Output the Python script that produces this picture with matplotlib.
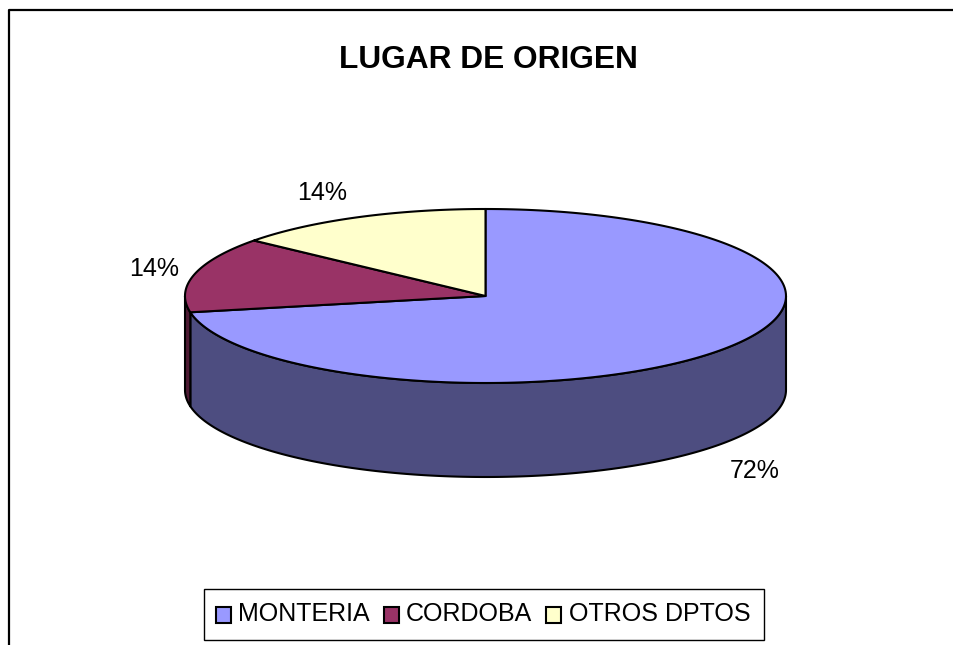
"""Lugar de origen: 3D-look pie chart drawn in pixel coordinates."""

import numpy as np
import matplotlib
matplotlib.use("Agg")
import matplotlib.pyplot as plt
from matplotlib.patches import Polygon, Rectangle

plt.rcParams["font.family"] = ["Liberation Sans", "DejaVu Sans"]

categories = ["MONTERIA", "CORDOBA", "OTROS DPTOS"]
values = [72, 14, 14]
colors = ["#9999FF", "#993366", "#FFFFCC"]
wall_colors = ["#4D4D80", "#4D1A33", "#808066"]

CX, CY = 485.5, 296
RX, RY = 300.5, 87
DEPTH = 94

label_pos = [(755, 471), (154, 269), (322, 193)]
legend_x = [(216, 238), (384, 406), (546, 569)]


def ellipse_pts(a0, a1, dy=0.0):
    a = np.radians(np.linspace(a0, a1, 200))
    return np.column_stack([CX + RX * np.cos(a), CY + dy - RY * np.sin(a)])


fig = plt.figure(figsize=(9.54, 6.45), dpi=100, facecolor="white")
ax = fig.add_axes([0, 0, 1, 1])
ax.set_xlim(0, 954)
ax.set_ylim(645, 0)
ax.axis("off")

# chart frame, runs off the picture on the right and bottom
ax.plot([9, 9, 954], [645, 10, 10], color="black", lw=1.6, solid_capstyle="butt")

# slices go clockwise from 12 o'clock
sweeps = np.array(values) / sum(values) * 360
starts = 90 - np.concatenate([[0], np.cumsum(sweeps)[:-1]])
ends = starts - sweeps

# outer wall, only the front half is visible
for start, end, wall in zip(starts, ends, wall_colors):
    a0 = min(start, 0)
    a1 = max(end, -180)
    if a0 <= a1:
        continue
    top = ellipse_pts(a0, a1)
    bottom = ellipse_pts(a1, a0, DEPTH)
    ax.add_patch(Polygon(np.vstack([top, bottom]), closed=True, facecolor=wall,
                         edgecolor="black", lw=1.5, joinstyle="round"))

# top face
for start, end, color in zip(starts, ends, colors):
    pts = np.vstack([[[CX, CY]], ellipse_pts(start, end)])
    ax.add_patch(Polygon(pts, closed=True, facecolor=color, edgecolor="black",
                         lw=1.5, joinstyle="round"))

for val, (x, y) in zip(values, label_pos):
    ax.text(x, y, f"{val}%", fontsize=18, ha="center", va="center", color="black")

ax.text(488, 60, "LUGAR DE ORIGEN", fontsize=22.8, fontweight="bold",
        ha="center", va="center", color="black")

# legend box
ax.add_patch(Rectangle((204, 589), 560, 51, facecolor="white", edgecolor="black", lw=1))
for name, color, (sx, tx) in zip(categories, colors, legend_x):
    ax.add_patch(Rectangle((sx, 607), 15, 16, facecolor=color, edgecolor="black", lw=1.5))
    ax.text(tx, 614, name, fontsize=18, ha="left", va="center", color="black")

fig.savefig("out.png", dpi=100, facecolor="white")
